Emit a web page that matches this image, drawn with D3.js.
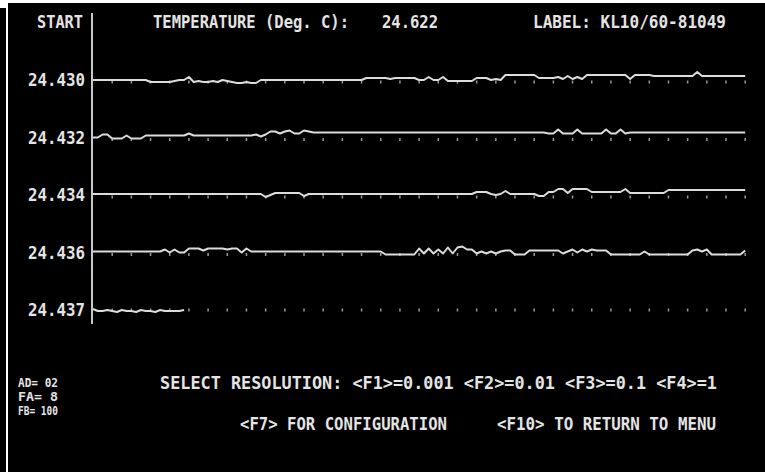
<!DOCTYPE html>
<html><head><meta charset="utf-8">
<script src="https://cdn.jsdelivr.net/npm/d3@7/dist/d3.min.js"></script>
<style>
html,body{margin:0;padding:0;background:#000;overflow:hidden}
svg{display:block}
text{font-family:"DejaVu Sans Mono","Liberation Mono",monospace;font-weight:bold;fill:#e4e4e4}
</style></head><body>
<svg id="c" width="765" height="472"></svg>
<script>
// ---- data ----
const rowLabels = ["24.430","24.432","24.434","24.436","24.437"];
const headerTitle = "TEMPERATURE (Deg. C):";
const headerValue = "24.622";
const headerLabel = "LABEL: KL10/60-81049";
const startLabel = "START";
const statusLines = ["AD=  02","FA=   8","FB= 100"];
const menuLine1 = "SELECT RESOLUTION: <F1>=0.001  <F2>=0.01  <F3>=0.1  <F4>=1";
const menuLine2a = "<F7> FOR CONFIGURATION";
const menuLine2b = "<F10> TO RETURN TO MENU";
const samplesPerRow = 137;
const tickEvery = 4;

// deviation counts per sample for each strip row
const row1 = [0,0,0,0,0,0,0,0,0,0,
 0,0,-2,-2,-2,-2,-2,-1,0,0,
 3,-2,-1,-2,-2,-1,-2,0,-1,-2,
 -3,-3,-2,-3,-3,0,0,0,0,0,
 0,0,0,0,0,0,0,0,0,0,
 0,0,0,0,0,0,0,2,2,2,
 2,2,1,2,2,2,2,2,0,0,
 3,0,0,3,-1,-1,-1,-1,-1,-1,
 2,2,2,0,1,0,5,5,5,5,
 5,5,5,2,2,2,2,3,1,4,
 1,3,1,5,5,5,5,5,5,5,
 5,5,1,5,5,5,5,4,4,4,
 4,4,4,4,4,4,8,4,4,4,
 4,4,4,4,4,4,4];
const row2 = [0,0,3,3,-1,-1,-1,2,-1,-1,
 -1,2,2,2,2,2,2,2,2,2,
 4,2,2,2,2,2,2,2,2,2,
 2,2,2,2,3,1,3,6,6,4,
 6,7,4,4,7,6,5,5,5,5,
 5,5,5,5,5,5,5,5,5,5,
 5,5,5,5,5,5,5,5,5,5,
 5,5,5,5,5,5,5,5,5,5,
 5,5,5,5,5,5,5,5,5,5,
 5,5,5,5,5,4,4,8,4,4,
 4,8,4,4,4,4,4,8,4,4,
 8,4,5,5,5,5,5,5,5,5,
 5,5,5,5,5,5,5,5,5,5,
 5,5,5,5,5,5,5];
const row3 = [1,1,1,1,1,1,1,1,1,1,
 1,1,1,1,1,1,1,1,1,1,
 1,1,1,1,1,1,1,1,1,1,
 1,1,1,1,1,1,-2,0,2,2,
 2,2,2,2,-1,1,1,1,1,1,
 1,1,1,1,1,1,1,1,1,1,
 1,1,1,1,1,1,1,1,1,1,
 1,1,1,1,1,1,1,1,1,1,
 3,3,3,1,0,1,4,1,1,1,
 1,1,1,-1,-1,3,3,6,6,2,
 6,6,6,6,3,3,3,3,3,3,
 3,6,2,2,2,2,2,2,2,2,
 5,5,5,5,5,5,5,5,5,5,
 5,5,5,5,5,5,5];
const row4 = [1,1,1,1,1,1,1,1,1,1,
 1,1,1,1,1,3,0,3,0,0,
 4,4,4,2,4,4,4,4,3,4,
 4,0,4,1,1,1,1,1,1,1,
 1,1,1,1,1,1,1,1,1,1,
 1,1,1,1,1,1,1,1,1,1,
 1,-2,-2,-2,-2,-2,-2,-2,4,-1,
 4,-1,3,-1,5,-1,5,6,3,3,
 -1,1,-1,1,-1,1,2,2,-2,-2,
 -2,2,2,2,2,2,2,2,-1,1,
 3,0,3,1,3,2,2,2,-2,-2,
 -2,-2,-2,-2,-2,1,-2,-2,-2,-2,
 -2,-2,-2,-2,-2,2,3,1,3,-2,
 -2,-2,-2,-2,-2,-2,2];
const row5 = [1,-1,-1,0,-1,-2,0,-1,-1,-2,
 0,-1,-1,-2,0,-1,-1,-1,-1,0];
const seriesRows = [row1,row2,row3,row4,row5];

// ---- drawing ----
const svg = d3.select("#c");
const W = 765, H = 472;
svg.append("rect").attr("width",W).attr("height",H).attr("fill","#000");
// screen frame edges
svg.append("rect").attr("x",0).attr("y",0).attr("width",W).attr("height",3).attr("fill","#fff");
svg.append("rect").attr("x",0).attr("y",0).attr("width",8).attr("height",8).attr("fill","#fff");
svg.append("rect").attr("x",6).attr("y",0).attr("width",2).attr("height",H).attr("fill","#fff");

const x = d3.scaleLinear().domain([0, samplesPerRow]).range([93, 750]);
const rowY = d3.scalePoint().domain(rowLabels).range([80, 310]);
const dev = d3.scaleLinear().domain([-10, 10]).range([10, -10]);

// vertical axis
svg.append("line").attr("x1",92).attr("x2",92).attr("y1",13).attr("y2",324)
  .attr("stroke","#c8c8c8").attr("stroke-width",2);

function txt(s, x0, y0, len, anchor, size){
  const t = svg.append("text").attr("x",x0).attr("y",y0).attr("font-size",size||17).text(s);
  if (anchor) t.attr("text-anchor",anchor);
  if (len) t.attr("textLength",len).attr("lengthAdjust","spacingAndGlyphs");
  return t;
}
txt(startLabel, 37, 28, 46);
txt(headerTitle, 153, 28, 196);
txt(headerValue, 382, 28, 56);
txt(headerLabel, 533, 28, 193);

// row labels
rowLabels.forEach(l => txt(l, 85, rowY(l)+6, 57, "end"));

// ticks
const tickIdx = d3.range(tickEvery, samplesPerRow+1, tickEvery);
rowLabels.forEach((l,ri) => {
  svg.append("g").selectAll("rect").data(tickIdx).join("rect")
    .attr("x", d => x(d)-0.75).attr("y", rowY(l) + (ri===4 ? -1.5 : 0.5))
    .attr("width",1.5).attr("height",3).attr("fill","#9a9a9a");
});

// traces
const line = d3.line().x((d,i)=>x(i)).y(d=>d.y).curve(d3.curveLinear);
seriesRows.forEach((vals,ri) => {
  const base = rowY(rowLabels[ri]);
  svg.append("path").datum(vals.map(v=>({y: base + dev(v)})))
    .attr("d", line).attr("fill","none").attr("stroke","#dcdcdc")
    .attr("stroke-width",2).attr("stroke-linejoin","round");
});

// status / menu
txt(statusLines[0], 18, 387, 40, null, 11.5);
txt(statusLines[1], 18, 401, 40, null, 11.5);
txt(statusLines[2], 18, 415, 40, null, 11.5);
txt(menuLine1, 160, 389, 557);
txt(menuLine2a, 240, 430, 207);
txt(menuLine2b, 497, 430, 219);
</script></body></html>
